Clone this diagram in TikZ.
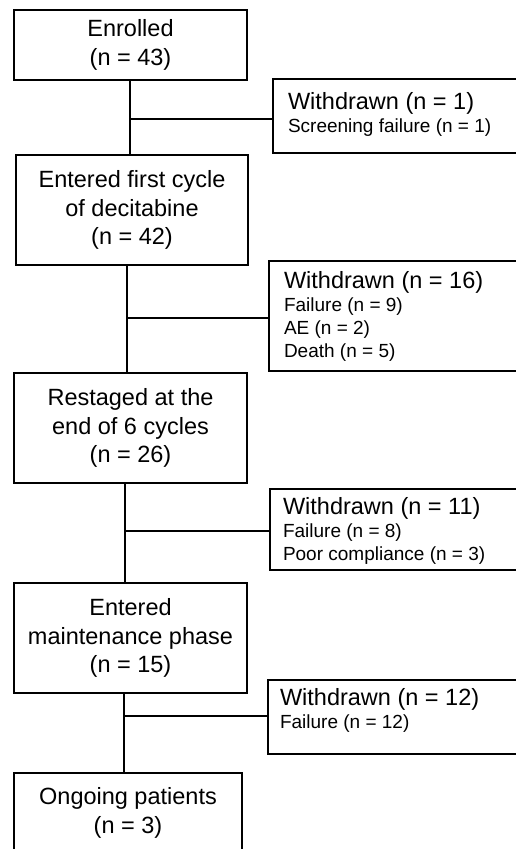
\documentclass[tikz,border=0pt]{standalone}
\usepackage{fontspec}
\setmainfont{Liberation Sans}
\begin{document}
\begin{tikzpicture}[x=1pt,y=-1pt,
  line width=2pt,
  mainbox/.style={draw=black, line width=2pt, rectangle, inner sep=0pt, align=center,
    font=\fontsize{23.5}{28.5}\selectfont},
  wbox/.style={draw=black, line width=2pt, rectangle, inner sep=0pt},
  whead/.style={anchor=base west, inner sep=0pt, font=\fontsize{23.5}{28}\selectfont},
  wsub/.style={anchor=base west, inner sep=0pt, font=\fontsize{19}{23}\selectfont},
  link/.style={draw=black, line width=2pt}]
\useasboundingbox (0,0) rectangle (516,849);
\clip (0,0) rectangle (516,849);
\fill[white] (0,0) rectangle (516,849);

% main boxes
\node[mainbox, minimum width=233pt, minimum height=70pt] (b1) at (130.5,45) {Enrolled\\(n = 43)};
\node[mainbox, minimum width=232pt, minimum height=110pt] (b2) at (132,210) {Entered first cycle\\of decitabine\\(n = 42)};
\node[mainbox, minimum width=233pt, minimum height=110pt] (b3) at (130.5,428) {Restaged at the\\end of 6 cycles\\(n = 26)};
\node[mainbox, minimum width=233pt, minimum height=110pt] (b4) at (130.5,638) {Entered\\maintenance phase\\(n = 15)};
\node[mainbox, minimum width=228pt, minimum height=80pt] (b5) at (128,813) {Ongoing patients\\(n = 3)};

% withdrawn boxes
\node[wbox, minimum width=267pt, minimum height=74pt] (w1) at (406.5,116) {};
\node[wbox, minimum width=271pt, minimum height=110pt] (w2) at (404.5,316) {};
\node[wbox, minimum width=270pt, minimum height=81pt] (w3) at (405,529.5) {};
\node[wbox, minimum width=272pt, minimum height=74pt] (w4) at (404,717) {};

% withdrawn texts
\node[whead] (w1a) at (287,109) {Withdrawn (n = 1)};
\node[wsub] (w1b) at (287,132) {Screening failure (n = 1)};

\node[whead] (w2a) at (283,288) {Withdrawn (n = 16)};
\node[wsub] (w2b) at (283,311) {Failure (n = 9)};
\node[wsub] (w2c) at (283,334) {AE (n = 2)};
\node[wsub] (w2d) at (283,357) {Death (n = 5)};

\node[whead] (w3a) at (282,514) {Withdrawn (n = 11)};
\node[wsub] (w3b) at (282,537) {Failure (n = 8)};
\node[wsub] (w3c) at (282,560) {Poor compliance (n = 3)};

\node[whead] (w4a) at (279,705) {Withdrawn (n = 12)};
\node[wsub] (w4b) at (279,728) {Failure (n = 12)};

% junctions
\coordinate (j1) at (130,119);
\coordinate (j2) at (127,318);
\coordinate (j3) at (125,531);
\coordinate (j4) at (124,716);

% connectors
\draw[link] (b1.south -| j1) -- (b2.north -| j1);
\draw[link] (j1) -- (w1.west |- j1);
\draw[link] (b2.south -| j2) -- (b3.north -| j2);
\draw[link] (j2) -- (w2.west |- j2);
\draw[link] (b3.south -| j3) -- (b4.north -| j3);
\draw[link] (j3) -- (w3.west |- j3);
\draw[link] (b4.south -| j4) -- (b5.north -| j4);
\draw[link] (j4) -- (w4.west |- j4);
\end{tikzpicture}
\end{document}
